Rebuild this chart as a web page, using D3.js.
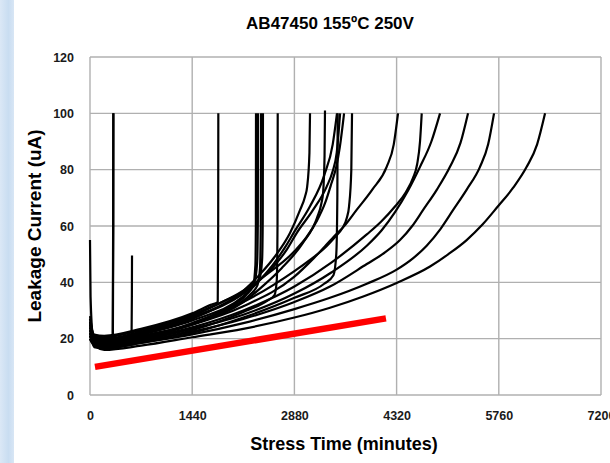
<!DOCTYPE html>
<html>
<head>
<meta charset="utf-8">
<script src="https://cdn.jsdelivr.net/npm/d3@7"></script>
<style>
  body { margin: 0; background: #fff; }
  svg { display: block; font-family: "Liberation Sans", Arial, sans-serif; }
</style>
</head>
<body>
<div class="chart-box"></div>
<script>
// tick values
var xTicks = [0, 1440, 2880, 4320, 5760, 7200];
var yTicks = [0, 20, 40, 60, 80, 100, 120];

// leakage current per device, [minutes, uA]
var dev01 = [[0,55],[8,35],[40,21],[100,17],[200,16],[720,17.5],[1440,20.5],[2160,23.5],[2880,27.5],[3382,31],[3850,35],[4321,39.8],[4791,45.6],[5050,50],[5307,55],[5530,60.5],[5749,67],[5960,73.5],[6153,81],[6300,89],[6412,100]];
var dev02 = [[0,24],[60,17.5],[200,16.5],[720,18.5],[1440,21.5],[2160,25.5],[2880,30.5],[3382,34.5],[3900,39.5],[4321,44.5],[4550,48.5],[4744,53],[4940,59],[5117,65.7],[5310,73],[5495,81],[5610,89],[5693,100]];
var dev03 = [[0,20],[60,18],[200,17],[720,19],[1440,22.5],[2160,27],[2880,33],[3382,38.5],[3900,46.5],[4150,50.5],[4368,55],[4540,60],[4694,65.7],[4890,73],[5072,81],[5220,89.5],[5326,100]];
var dev04 = [[0,26],[60,18.5],[200,17.5],[720,19.5],[1440,23.5],[2160,28.5],[2880,36],[3400,43.5],[3900,53],[4110,58.5],[4300,65],[4480,72.5],[4650,81],[4810,90],[4932,100]];
var dev05 = [[0,21],[60,18.5],[200,18],[720,20],[1440,24],[2160,30],[2880,38.5],[3400,47],[3900,57],[4100,61.5],[4300,67],[4450,72],[4550,77],[4610,82],[4650,90],[4674,100]];
var dev06 = [[0,23],[60,19],[200,18.5],[720,21],[1440,25],[2160,31.5],[2880,42],[3150,48.5],[3428,56],[3600,60.5],[3757,65.7],[3980,73],[4180,81],[4280,89],[4340,100]];
var dev07 = [[0,25],[60,20],[200,19.5],[720,22],[1440,27.5],[2160,36],[2400,41],[2600,46],[2770,51.5],[2912,57.5],[3143,65.7],[3335,74],[3420,79.5],[3476,86],[3524,100]];
var dev08 = [[0,19],[60,19.5],[200,19],[720,21.5],[1440,26.5],[2160,35],[2400,41],[2600,47],[2750,52.5],[2880,58],[3100,67],[3300,78],[3420,89],[3480,100]];
var dev09 = [[0,22],[60,17],[200,16.5],[720,18.5],[1440,22],[2160,27.5],[2880,34.5],[3300,39.5],[3430,42.5],[3470,50],[3485,70],[3490,100]];
var dev10 = [[0,27],[60,19],[200,18],[720,20.5],[1440,25.5],[2160,33],[2880,44],[3100,48],[3300,52],[3450,56],[3550,59],[3620,63],[3650,67],[3682,80],[3692,100]];
var dev11 = [[0,24],[60,21],[200,20.5],[720,23],[1440,28.5],[2160,37],[2500,43],[2880,51],[3050,56],[3200,62],[3310,68],[3400,75],[3470,81],[3520,88],[3580,100]];
var dev12 = [[0,20],[60,18],[200,17.5],[720,20],[1440,25],[2160,33],[2450,39],[2700,45],[3000,54],[3200,63],[3260,68],[3285,72],[3305,85],[3311,101]];
var dev13 = [[0,23],[60,20],[200,19.5],[720,22],[1440,27.5],[2160,37],[2400,43],[2600,49],[2818,57.5],[2960,65.7],[3030,70.5],[3060,74],[3092,86],[3100,100]];
var dev14 = [[0,21],[60,18],[200,17.5],[720,20],[1440,25.5],[1900,30.5],[2200,35.5],[2300,39],[2330,46],[2337,60],[2339,100]];
var dev15 = [[0,25],[60,19.5],[200,19],[720,21.5],[1440,27],[1900,32.5],[2200,37],[2320,40.5],[2355,47],[2365,62],[2367,100]];
var dev16 = [[0,22],[60,19],[200,18.5],[720,20.5],[1440,25],[1900,30],[2250,35.5],[2360,39],[2395,45],[2406,60],[2409,100]];
var dev17 = [[0,28],[60,20.5],[200,20],[720,22.5],[1440,28],[1900,33.5],[2250,38],[2390,41.5],[2425,48],[2434,62],[2437,100]];
var dev18 = [[0,20],[60,17.5],[200,17],[720,19],[1440,23],[2160,29.5],[2500,33.5],[2600,35.5],[2632,41],[2642,60],[2645,100]];
var dev19 = [[0,26],[60,21.5],[200,21],[720,23.5],[1440,29],[1700,32],[1800,33],[1806,60],[1808,100]];
var dev20 = [[0,23],[60,20],[200,19.5],[320,20],[326,60],[328,100]];
var dev21 = [[0,21],[60,18.5],[200,18],[322,18.5],[328,60],[330,100]];
var dev22 = [[0,22],[60,18],[200,17.5],[585,19],[590,35],[592,49.5]];

var devices = [dev01, dev02, dev03, dev04, dev05, dev06, dev07, dev08, dev09, dev10, dev11,
               dev12, dev13, dev14, dev15, dev16, dev17, dev18, dev19, dev20, dev21, dev22];

// red trend line
var redTrend = [[70, 10], [4170, 27.2]];

var margin = {top: 57, right: 9, bottom: 68, left: 90};
var width = 610, height = 463;
var plot_w = width - margin.left - margin.right,
    plot_h = height - margin.top - margin.bottom;

var svg = d3.select(".chart-box").append("svg")
    .attr("width", width)
    .attr("height", height);

// pale blue strip at the left edge
var grad = svg.append("defs").append("linearGradient")
    .attr("id", "strip").attr("x1", 0).attr("x2", 1).attr("y1", 0).attr("y2", 0);
grad.append("stop").attr("offset", "0%").attr("stop-color", "#dbe8f6");
grad.append("stop").attr("offset", "60%").attr("stop-color", "#c9ddf1");
grad.append("stop").attr("offset", "100%").attr("stop-color", "#d8e6f5");
svg.append("rect")
    .attr("x", 0).attr("y", 0)
    .attr("width", 14).attr("height", height)
    .attr("fill", "url(#strip)");

var g = svg.append("g")
    .attr("transform", "translate(" + margin.left + "," + margin.top + ")");

var x = d3.scaleLinear().domain([0, 7200]).range([0, plot_w]);
var y = d3.scaleLinear().domain([0, 120]).range([plot_h, 0]);

// grid
g.append("g").selectAll("line.vg")
    .data(xTicks)
  .enter().append("line")
    .attr("x1", function(d) { return x(d); })
    .attr("x2", function(d) { return x(d); })
    .attr("y1", 0).attr("y2", plot_h)
    .attr("stroke", "#b0b0b0").attr("stroke-width", 1.4);

g.append("g").selectAll("line.hg")
    .data(yTicks)
  .enter().append("line")
    .attr("y1", function(d) { return y(d); })
    .attr("y2", function(d) { return y(d); })
    .attr("x1", 0).attr("x2", plot_w)
    .attr("stroke", "#b0b0b0").attr("stroke-width", 1.4);

// axes (labels only)
var xAxis = g.append("g")
    .attr("transform", "translate(0," + plot_h + ")")
    .call(d3.axisBottom(x).tickValues(xTicks).tickSize(0).tickPadding(16).tickFormat(d3.format("d")));
var yAxis = g.append("g")
    .call(d3.axisLeft(y).tickValues(yTicks).tickSize(0).tickPadding(16).tickFormat(d3.format("d")));

[xAxis, yAxis].forEach(function(a) {
  a.select(".domain").remove();
  a.selectAll("text")
    .style("font-family", "'Liberation Sans', Arial, sans-serif")
    .style("font-size", "12.5px")
    .style("font-weight", "bold")
    .attr("fill", "#1a1a1a");
});

// device curves
var line = d3.line()
    .x(function(d) { return x(d[0]); })
    .y(function(d) { return y(d[1]); })
    .curve(d3.curveMonotoneX);

g.append("g").selectAll("path.dev")
    .data(devices)
  .enter().append("path")
    .attr("class", "dev")
    .attr("d", line)
    .attr("fill", "none")
    .attr("stroke", "#000")
    .attr("stroke-width", 2.2)
    .attr("stroke-linejoin", "round");

// red trend
g.append("path")
    .datum(redTrend)
    .attr("d", d3.line().x(function(d) { return x(d[0]); }).y(function(d) { return y(d[1]); }))
    .attr("stroke", "#ff0000")
    .attr("stroke-width", 6.5)
    .attr("fill", "none");

// titles
svg.append("text")
    .attr("x", 330).attr("y", 29)
    .attr("text-anchor", "middle")
    .style("font-size", "17px").style("font-weight", "bold")
    .text("AB47450 155\u00BAC 250V");

svg.append("text")
    .attr("x", 344).attr("y", 450)
    .attr("text-anchor", "middle")
    .style("font-size", "18px").style("font-weight", "bold")
    .text("Stress Time (minutes)");

svg.append("text")
    .attr("transform", "translate(41,226) rotate(-90)")
    .attr("text-anchor", "middle")
    .style("font-size", "19px").style("font-weight", "bold")
    .text("Leakage Current (uA)");
</script>
</body>
</html>
